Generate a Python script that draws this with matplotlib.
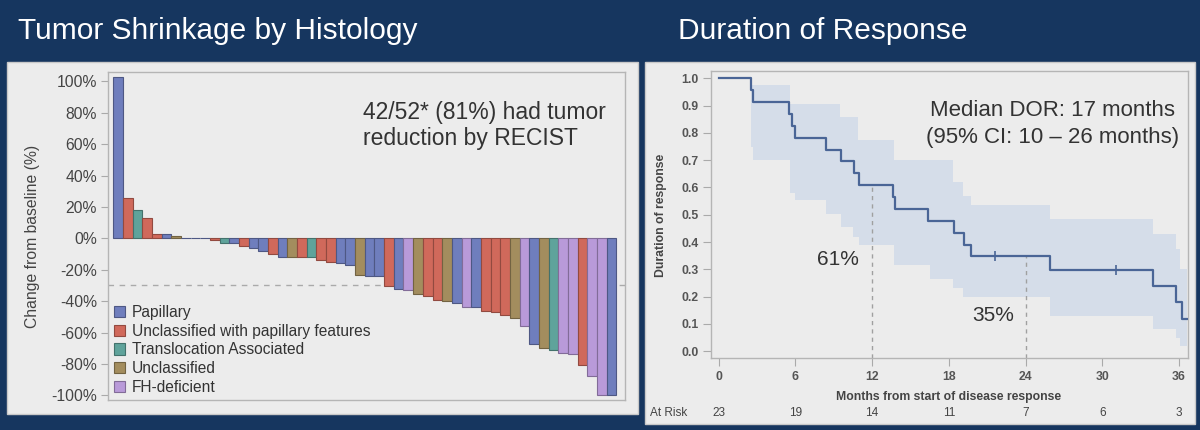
import matplotlib
matplotlib.use('Agg')
import matplotlib.pyplot as plt
from matplotlib.patches import Rectangle, Patch
import matplotlib.transforms as mtransforms
import matplotlib.colors as mcolors

plt.rcParams['font.family'] = ['Liberation Sans', 'DejaVu Sans']

# ---------------- data ----------------
histology_names = ['Papillary', 'Unclassified with papillary features',
                   'Translocation Associated', 'Unclassified', 'FH-deficient']
histology_codes = ['P', 'U', 'T', 'N', 'F']
histology_colors = ['#6F7EBD', '#D0695B', '#5FA39B', '#A38D5E', '#B99AD9']

bar_histology = ['P', 'U', 'T', 'U', 'U', 'P', 'N', 'P', 'P', 'P',
                 'U', 'T', 'P', 'U', 'P', 'P', 'U', 'P', 'N', 'U',
                 'T', 'U', 'U', 'P', 'P', 'N', 'P', 'P', 'U', 'P',
                 'F', 'N', 'U', 'U', 'N', 'P', 'F', 'P', 'U', 'U',
                 'U', 'N', 'F', 'P', 'N', 'T', 'F', 'F', 'U', 'F',
                 'F', 'P']
bar_change = [103, 25.5, 18, 13, 3, 2.5, 1.5, 0, 0, 0,
              -1, -3, -3, -5, -6, -8, -10, -12, -12, -12,
              -12, -14, -15, -16, -17, -23.5, -24, -24, -30.5, -32,
              -33, -35.5, -37, -39, -40, -41, -44, -44, -46, -47,
              -49, -51, -56, -67, -70, -71, -73, -74, -81, -88,
              -100, -100]
wf_yticks = [100, 80, 60, 40, 20, 0, -20, -40, -60, -80, -100]
wf_threshold = -30

km_times = [0, 2.55, 2.7, 5.5, 5.7, 6.0, 8.4, 9.6, 10.55, 10.95, 13.6, 13.75,
            16.4, 18.4, 19.2, 19.7, 25.9, 34.0, 35.8, 36.2]
km_surv = [1.0, 0.957, 0.913, 0.870, 0.826, 0.783, 0.739, 0.696, 0.652, 0.609,
           0.565, 0.522, 0.478, 0.435, 0.391, 0.348, 0.298, 0.238, 0.179, 0.119]
km_end = 36.6
censor_times = [21.6, 31.1]
censor_surv = [0.348, 0.298]
ci_times = [2.55, 2.7, 5.55, 6.0, 8.4, 9.45, 9.6, 10.5, 10.9, 11.0, 13.7, 16.5,
            18.3, 19.1, 19.7, 25.9, 34.0, 35.75, 36.1]
ci_upper = [0.974, 0.974, 0.907, 0.907, 0.907, 0.858, 0.858, 0.858, 0.773, 0.773,
            0.70, 0.70, 0.62, 0.57, 0.535, 0.486, 0.431, 0.376, 0.30]
ci_lower = [0.748, 0.70, 0.578, 0.553, 0.504, 0.504, 0.455, 0.419, 0.419, 0.388,
            0.315, 0.266, 0.23, 0.20, 0.20, 0.13, 0.083, 0.05, 0.02]
km_xticks = [0, 6, 12, 18, 24, 30, 36]
km_yticks = [0.0, 0.1, 0.2, 0.3, 0.4, 0.5, 0.6, 0.7, 0.8, 0.9, 1.0]
at_risk = [23, 19, 14, 11, 7, 6, 3]
ref_times = [12, 24]
ref_surv = [0.609, 0.348]
ref_labels = ['61%', '35%']

# ---------------- layout helpers ----------------
W, H = 1200, 430
def fx(x):
    return x / W
def fy(y):
    return 1 - y / H

NAVY = '#16365F'
PANEL = '#ECECEC'
TXT = '#333333'

fig = plt.figure(figsize=(12, 4.3), dpi=100)
fig.patch.set_facecolor(NAVY)

# panels
fig.patches.append(Rectangle((fx(7), fy(414)), fx(638) - fx(7), fy(62) - fy(414),
                             transform=fig.transFigure, facecolor=PANEL,
                             edgecolor='#C9C9C9', lw=1, zorder=-5))
fig.patches.append(Rectangle((fx(645), fy(424)), fx(1195) - fx(645), fy(62) - fy(424),
                             transform=fig.transFigure, facecolor=PANEL,
                             edgecolor='#C9C9C9', lw=1, zorder=-5))

# titles
fig.text(fx(18), fy(31), 'Tumor Shrinkage by Histology', color='white',
         fontsize=21.5, ha='left', va='center')
fig.text(fx(678), fy(31), 'Duration of Response', color='white',
         fontsize=21.5, ha='left', va='center')

# ---------------- waterfall ----------------
ax1 = fig.add_axes([fx(108), fy(400), fx(625) - fx(108), fy(72) - fy(400)])
ax1.set_zorder(2)
ax1.set_facecolor('none')
cmap = dict(zip(histology_codes, histology_colors))
xs = list(range(len(bar_change)))
faces = [cmap[h] for h in bar_histology]
edges = []
for c in faces:
    r, g, b = mcolors.to_rgb(c)
    edges.append((r * 0.7, g * 0.7, b * 0.7))
ax1.bar(xs, bar_change, width=1.0, color=faces, edgecolor=edges, linewidth=0.8, zorder=3)
ax1.axhline(wf_threshold, color='#AAAAAA', lw=1, ls=(0, (4, 4)), zorder=2)
ax1.set_xlim(-1.05, 52.4)
ax1.set_ylim(-103, 106)
ax1.set_yticks(wf_yticks)
ax1.set_yticklabels([f'{v}%' for v in wf_yticks], fontsize=11.3, color='#444444')
ax1.set_xticks([])
ax1.tick_params(axis='y', direction='out', length=5, color='#AAAAAA', pad=3)
for s in ax1.spines.values():
    s.set_color('#B5B5B5')
    s.set_linewidth(1)
ax1.set_ylabel('Change from baseline (%)', fontsize=11.3, color='#444444', labelpad=8)

handles = [Patch(facecolor=c, edgecolor=tuple(v * 0.7 for v in mcolors.to_rgb(c)), lw=0.8)
           for c in histology_colors]
ax1.legend(handles, histology_names, loc='upper left',
           bbox_to_anchor=(fx(114), fy(305)), bbox_transform=fig.transFigure,
           frameon=False, fontsize=11.2, handlelength=0.72, handleheight=0.72,
           handletextpad=0.45, labelspacing=0.24, borderpad=0, borderaxespad=0,
           labelcolor=TXT)

fig.text(fx(363), fy(112), '42/52* (81%) had tumor', fontsize=16.5, color=TXT,
         ha='left', va='center')
fig.text(fx(363), fy(138), 'reduction by RECIST', fontsize=16.5, color=TXT,
         ha='left', va='center')

# ---------------- Kaplan-Meier ----------------
ax2 = fig.add_axes([fx(711), fy(358), fx(1188) - fx(711), fy(71) - fy(358)])
ax2.set_zorder(2)
ax2.set_facecolor('none')
LINE = '#4A6596'
BAND = '#D5DDE9'
ci_t = ci_times + [km_end]
ci_u = ci_upper + [ci_upper[-1]]
ci_l = ci_lower + [ci_lower[-1]]
ax2.fill_between(ci_t, ci_l, ci_u, step='post', color=BAND, lw=0, zorder=1)
kt = km_times + [km_end]
ks = km_surv + [km_surv[-1]]
ax2.step(kt, ks, where='post', color=LINE, lw=1.6, zorder=3)
ax2.plot(censor_times, censor_surv, ls='none', marker='+', ms=7, mew=1.2,
         color=LINE, zorder=4)
for t, s in zip(ref_times, ref_surv):
    ax2.plot([t, t], [-0.025, s], color='#A0A0A0', lw=1, ls=(0, (3, 3)), zorder=2)
ax2.text(9.3, 0.335, ref_labels[0], fontsize=15, color=TXT, ha='center', va='center')
ax2.text(21.5, 0.13, ref_labels[1], fontsize=15, color=TXT, ha='center', va='center')

ax2.set_xlim(-0.6, 36.7)
ax2.set_ylim(-0.025, 1.027)
ax2.set_xticks(km_xticks)
ax2.set_xticklabels([str(v) for v in km_xticks], fontsize=8.8, fontweight='bold', color='#555555')
ax2.set_yticks(km_yticks)
ax2.set_yticklabels([f'{v:.1f}' for v in km_yticks], fontsize=8.8, fontweight='bold', color='#555555')
ax2.tick_params(direction='out', length=6, color='#AAAAAA', pad=3)
for s in ax2.spines.values():
    s.set_color('#B5B5B5')
    s.set_linewidth(1)

fig.text(fx(661), fy(215), 'Duration of response', rotation=90, fontsize=8.8,
         fontweight='bold', color='#444444', ha='center', va='center')
fig.text(fx(949), fy(397), 'Months from start of disease response', fontsize=8.8,
         fontweight='bold', color='#444444', ha='center', va='center')

fig.text(fx(650), fy(413), 'At Risk', fontsize=8.5, color='#444444', ha='left', va='center')
trans = mtransforms.blended_transform_factory(ax2.transData, fig.transFigure)
for t, n in zip(km_xticks, at_risk):
    fig.text(t, fy(413), str(n), transform=trans, fontsize=8.5, color='#444444',
             ha='center', va='center')

fig.text(fx(1052), fy(110), 'Median DOR: 17 months', fontsize=16, color=TXT,
         ha='center', va='center')
fig.text(fx(1053), fy(137), '(95% CI: 10 \u2013 26 months)', fontsize=16, color=TXT,
         ha='center', va='center')

fig.savefig('out.png', dpi=100, facecolor=NAVY)
